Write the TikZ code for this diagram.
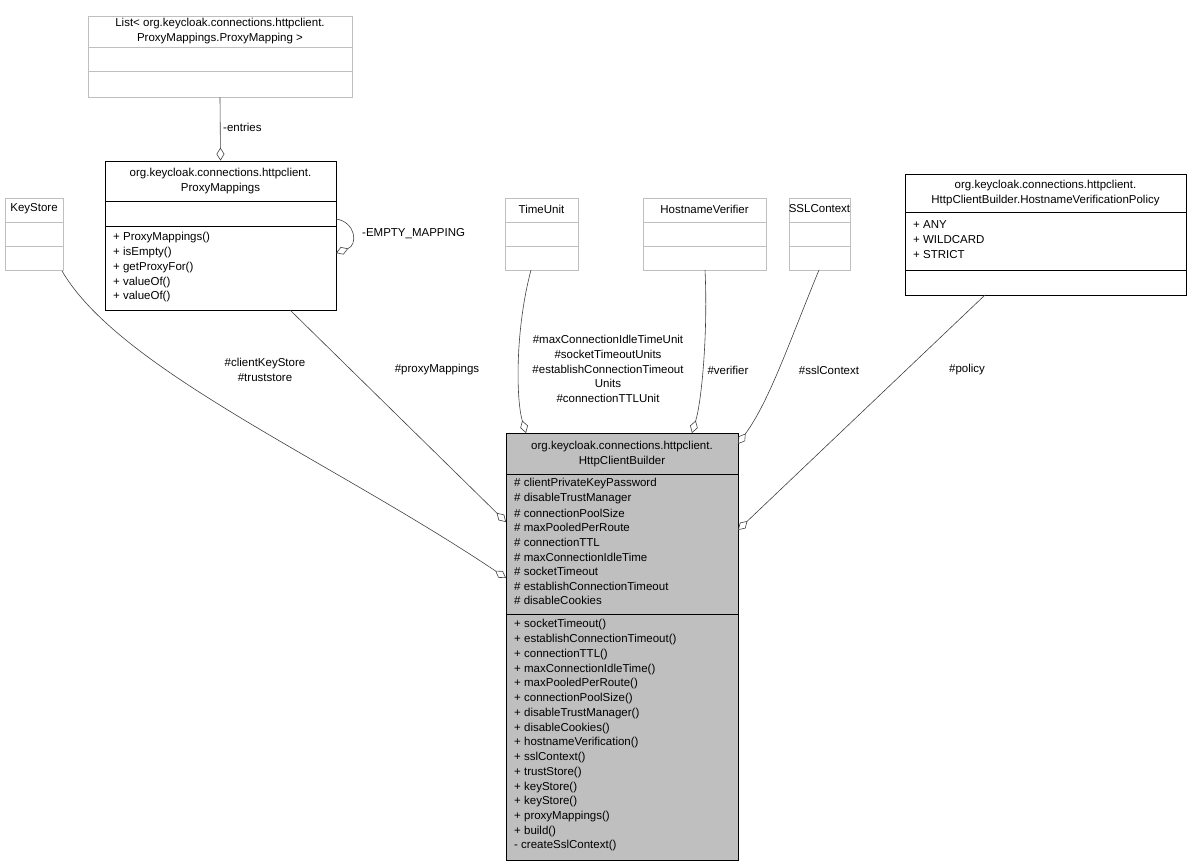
\documentclass[tikz,border=0pt]{standalone}
\usepackage{fontspec}
\setmainfont{Liberation Sans}
\usetikzlibrary{arrows.meta}
\begin{document}
\begin{tikzpicture}[x=1pt,y=-1pt,
  every node/.style={font=\fontsize{11.5}{14.7}\selectfont,inner sep=0pt},
  cls/.style={draw=black,line width=0.8pt,rectangle},
  ext/.style={draw=gray!50,line width=0.8pt,rectangle},
  sepb/.style={black,line width=0.8pt},
  sepg/.style={gray!50,line width=0.8pt},
  lbl/.style={align=center},
  mem/.style={anchor=west},
  agg/.style={draw=black!75,line width=0.6pt,-{Diamond[open,length=13pt,width=8pt]}}]
\useasboundingbox (0,0) rectangle (1194,867);
% boxes
\node[ext,minimum width=264pt,minimum height=81pt] (list) at (220,56.5) {};
\draw[sepg] (88,47)--(352,47); \draw[sepg] (88,71)--(352,71);
\node[lbl] at (220,31) {List< org.keycloak.connections.httpclient.\\ProxyMappings.ProxyMapping >};

\node[cls,minimum width=231pt,minimum height=149pt] (pm) at (220.5,235.5) {};
\draw[sepb] (105,201)--(336,201); \draw[sepb] (105,226)--(336,226);
\node[lbl] at (220.5,181) {org.keycloak.connections.httpclient.\\ProxyMappings};
\node[mem] at (113,238) {+ ProxyMappings()};
\node[mem] at (113,252.7) {+ isEmpty()};
\node[mem] at (113,267.4) {+ getProxyFor()};
\node[mem] at (113,282.1) {+ valueOf()};
\node[mem] at (113,296.8) {+ valueOf()};

\node[ext,minimum width=58pt,minimum height=72pt] (ks) at (34,234) {};
\draw[sepg] (5,222)--(63,222); \draw[sepg] (5,246)--(63,246);
\node at (34,209) {KeyStore};

\node[ext,minimum width=73pt,minimum height=72pt] (tu) at (541.5,234) {};
\draw[sepg] (505,222)--(578,222); \draw[sepg] (505,246)--(578,246);
\node at (541.5,209) {TimeUnit};

\node[ext,minimum width=123pt,minimum height=72pt] (hv) at (704.5,234) {};
\draw[sepg] (643,222)--(766,222); \draw[sepg] (643,246)--(766,246);
\node at (704.5,209) {HostnameVerifier};

\node[ext,minimum width=61pt,minimum height=72pt] (ssl) at (819.5,234) {};
\draw[sepg] (789,222)--(850,222); \draw[sepg] (789,246)--(850,246);
\node at (819.5,209) {SSLContext};

\node[cls,minimum width=281pt,minimum height=121pt] (pol) at (1045.5,234.5) {};
\draw[sepb] (905,212)--(1186,212); \draw[sepb] (905,270)--(1186,270);
\node[lbl] at (1045.5,193) {org.keycloak.connections.httpclient.\\HttpClientBuilder.HostnameVerificationPolicy};
\node[mem] at (913,225) {+ ANY};
\node[mem] at (913,240) {+ WILDCARD};
\node[mem] at (913,255) {+ STRICT};

\node[cls,fill=gray!50,minimum width=232pt,minimum height=427pt] (main) at (622,646.5) {};
\draw[sepb] (506,474)--(738,474); \draw[sepb] (506,614)--(738,614);
\node[lbl] at (622,454) {org.keycloak.connections.httpclient.\\HttpClientBuilder};
\foreach \t [count=\i from 0] in {\# clientPrivateKeyPassword,\# disableTrustManager,\# connectionPoolSize,\# maxPooledPerRoute,\# connectionTTL,\# maxConnectionIdleTime,\# socketTimeout,\# establishConnectionTimeout,\# disableCookies}
  \node[mem] at (514,484+14.6*\i) {\t};
\foreach \t [count=\i from 0] in {+ socketTimeout(),+ establishConnectionTimeout(),+ connectionTTL(),+ maxConnectionIdleTime(),+ maxPooledPerRoute(),+ connectionPoolSize(),+ disableTrustManager(),+ disableCookies(),+ hostnameVerification(),+ sslContext(),+ trustStore(),+ keyStore(),+ keyStore(),+ proxyMappings(),+ build(),- createSslContext()}
  \node[mem] at (514,625+14.73*\i) {\t};
% connectors
\coordinate (pmR1) at (336,219); \coordinate (pmR2) at (336,253);
\draw[agg] (list.south) -- (pm.north);
\node[mem] at (223,127) {-entries};
\draw[agg] (pmR1) .. controls (356,222) and (358,245) .. (pmR2);
\node[mem] at (362,234) {-EMPTY\_MAPPING};
\draw[agg] (62,271) .. controls (120,370) and (330,460) .. (506,578);
\node[lbl] at (265,370) {\#clientKeyStore\\\#truststore};
\draw[agg] (290,310) -- (506,522);
\node at (437,370) {\#proxyMappings};
\draw[agg] (531,270) .. controls (515,330) and (516,400) .. (526,433);
\node[lbl] at (608,369) {\#maxConnectionIdleTimeUnit\\\#socketTimeoutUnits\\\#establishConnectionTimeout\\Units\\\#connectionTTLUnit};
\draw[agg] (705,270) .. controls (708,330) and (702,400) .. (692,433);
\node at (728,370) {\#verifier};
\draw[agg] (819,270) .. controls (790,340) and (770,400) .. (738,444);
\node at (829,370) {\#sslContext};
\draw[agg] (985,295) -- (738,530);
\node at (967,370) {\#policy};
\end{tikzpicture}
\end{document}
